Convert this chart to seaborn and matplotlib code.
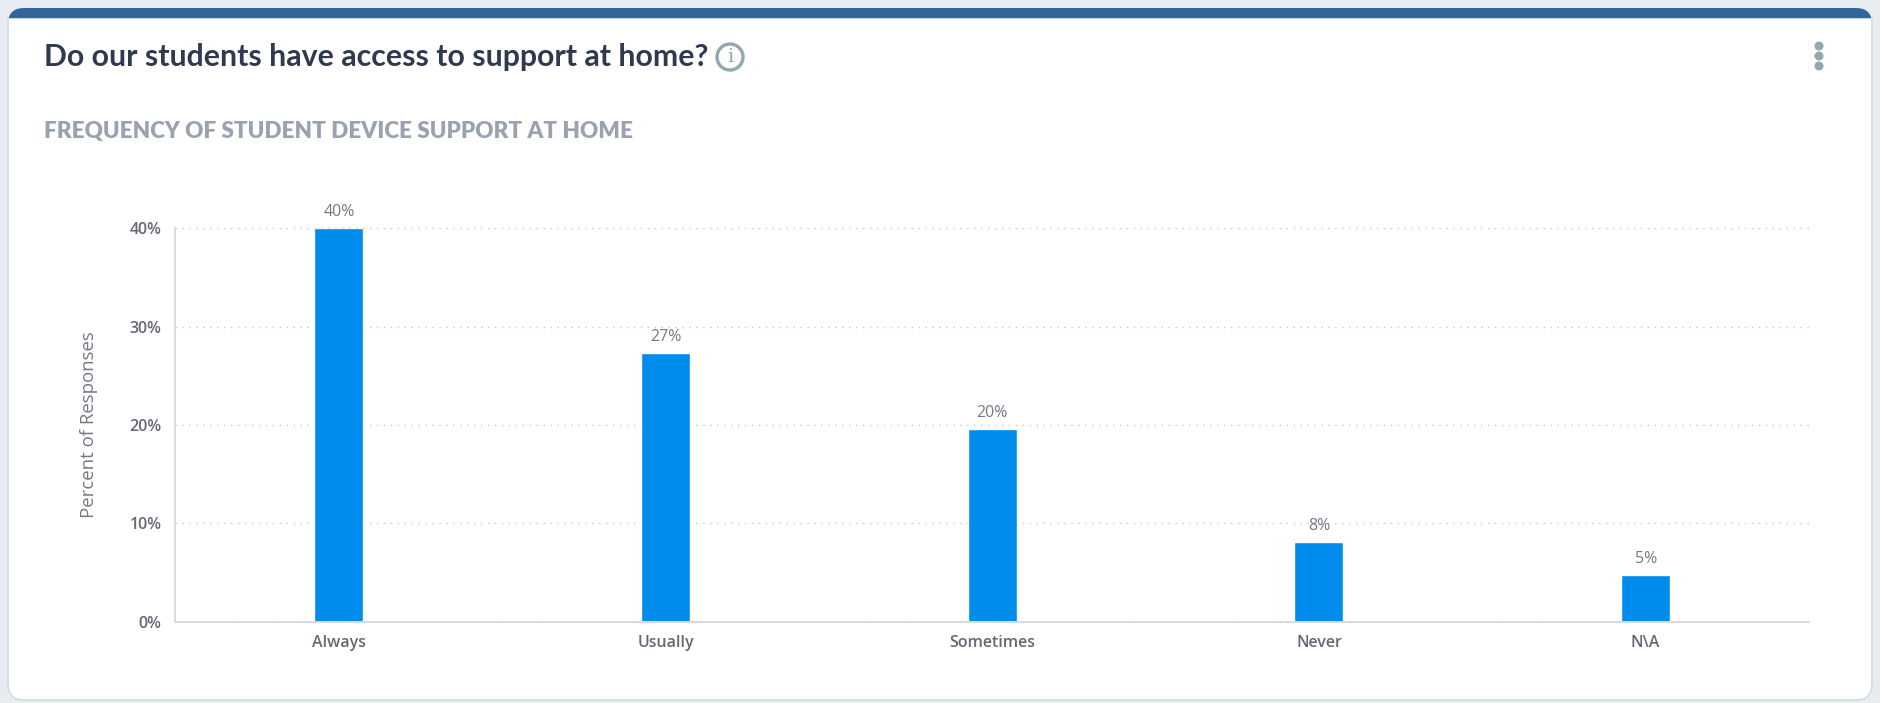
import matplotlib
matplotlib.use('Agg')
import matplotlib.pyplot as plt
from matplotlib.patches import Circle, FancyBboxPatch, Rectangle
import pandas as pd
import seaborn as sns

categories = ['Always', 'Usually', 'Sometimes', 'Never', 'N\\A']
percent_values = [40.0, 27.3, 19.6, 8.1, 4.7]
bar_labels = ['40%', '27%', '20%', '8%', '5%']
y_ticks = [0, 10, 20, 30, 40]
y_tick_labels = ['0%', '10%', '20%', '30%', '40%']

W, H = 1881, 703

sns.set_theme(style='white')
plt.rcParams['font.family'] = ['Open Sans', 'DejaVu Sans']

fig = plt.figure(figsize=(W / 100, H / 100), dpi=100, facecolor='#e6ecef')

# background layer in pixel coordinates, for the card around the chart
bg = fig.add_axes([0, 0, 1, 1], zorder=0)
bg.set_xlim(0, W)
bg.set_ylim(H, 0)
bg.axis('off')


def rounded(x0, y0, x1, y1, r, **kw):
    patch = FancyBboxPatch((x0 + r, y0 + r), x1 - x0 - 2 * r, y1 - y0 - 2 * r,
                           boxstyle=f'round,pad={r},rounding_size={r}', **kw)
    bg.add_patch(patch)
    return patch


rounded(8, 8, 1872, 60, 16, fc='#33669a', ec='none')
# white body: only the bottom corners are round, so the top is cut off under the blue band
body = rounded(8, -30, 1872, 700, 16, fc='white', ec='#d5dfe3', lw=1.4)
body.set_clip_path(Rectangle((0, 18), W, H, transform=bg.transData))
bg.add_patch(Rectangle((8, 17.5), 1864, 1.2, fc='#c9d8e6', ec='none'))

bg.text(44, 57, 'Do our students have access to support at home?', family='Lato',
        weight='bold', fontsize=21.8, color='#2f3a50', va='center', ha='left')
bg.text(44, 131.5, 'FREQUENCY OF STUDENT DEVICE SUPPORT AT HOME', family='Lato',
        weight='heavy', fontsize=16.2, color='#9aa2b1', va='center', ha='left')

# info icon next to the title
bg.add_patch(Circle((730, 57), 13, fc='white', ec='#8fa9ad', lw=2.4))
bg.text(730, 57, 'i', family='DejaVu Serif', fontsize=14, color='#8fa9ad',
        va='center', ha='center')

# menu dots
for dot_y in (46, 56, 66):
    bg.add_patch(Circle((1819, dot_y), 4.5, fc='#8fa9ad', ec='none'))

# chart, placed to line up with the plot area
left, right, top, bottom = 175.5, 1809, 228.5, 621.5
ax = fig.add_axes([left / W, 1 - bottom / H, (right - left) / W, (bottom - top) / H], zorder=1)
ax.patch.set_alpha(0)

df = pd.DataFrame({'category': categories, 'percent': percent_values})
sns.barplot(data=df, x='category', y='percent', color='#008ced', saturation=1, width=0.15, ax=ax)

ax.set_xlim(-0.5, 4.5)
ax.set_ylim(0, 40)
ax.set_yticks(y_ticks)
ax.set_yticklabels(y_tick_labels)
ax.set_xlabel('')
ax.set_ylabel('Percent of Responses', fontsize=13.4, color='#757985', labelpad=23)

ax.yaxis.grid(True, linestyle=(0, (1, 4)), color='#c4c8cc', linewidth=1)
for line in ax.get_ygridlines():
    line.set_clip_on(False)
ax.set_axisbelow(True)
for side in ('top', 'right'):
    ax.spines[side].set_visible(False)
for side in ('left', 'bottom'):
    ax.spines[side].set_color('#d9dadd')
    ax.spines[side].set_linewidth(1.4)

ax.tick_params(axis='x', length=4, width=0.8, color='#d9dadd', labelsize=11.5,
               labelcolor='#656873', pad=6)
ax.tick_params(axis='y', length=0, labelsize=11.5, labelcolor='#656873', pad=10)
for lab in ax.get_xticklabels() + ax.get_yticklabels():
    lab.set_fontweight('semibold')

ax.bar_label(ax.containers[0], labels=bar_labels, padding=6, fontsize=11.5, color='#757985')

fig.savefig('out.png', dpi=100, facecolor=fig.get_facecolor())
